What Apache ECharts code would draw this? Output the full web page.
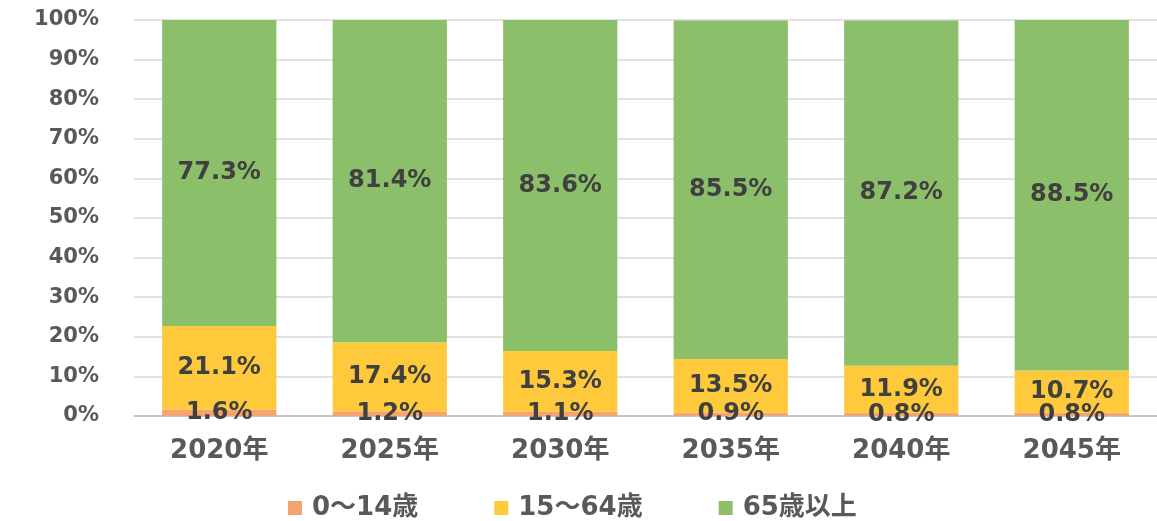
<!DOCTYPE html>
<html><head><meta charset="utf-8">
<script src="https://cdn.jsdelivr.net/npm/echarts@6/dist/echarts.min.js"></script>
<style>html,body{margin:0;padding:0;background:#fff}#c{width:1157px;height:521px}</style>
</head><body><div id="c"></div>
<script>
const categories = ['2020年','2025年','2030年','2035年','2040年','2045年'];
const seriesNames = ['0～14歳','15～64歳','65歳以上'];
const age0_14 = [1.6, 1.2, 1.1, 0.9, 0.8, 0.8];
const age15_64 = [21.1, 17.4, 15.3, 13.5, 11.9, 10.7];
const age65plus = [77.3, 81.4, 83.6, 85.5, 87.2, 88.5];
const yTicks = [0,10,20,30,40,50,60,70,80,90,100];

const colors = ['#F4A46E','#FFC93C','#8CBF6A'];
const FONT = '"DejaVu Sans","Noto Sans CJK JP",sans-serif';
const chart = echarts.init(document.getElementById('c'));
function mk(name, data, color){
  return {
    name, type:'bar', stack:'total', data, barCategoryGap:'33%',
    itemStyle:{color},
    label:{show:true, position:'inside', formatter: p=>p.value.toFixed(1)+'%',
      color:'#404040', fontWeight:'bold', fontSize:24, fontFamily:FONT}
  };
}
chart.setOption({
  animation:false,
  grid:{left:134,right:0,top:20,bottom:105,containLabel:false},
  legend:{top:490,left:283,itemWidth:14,itemHeight:14,itemGap:76,
    icon:'rect',
    textStyle:{fontSize:26,fontWeight:'bold',color:'#595959',fontFamily:FONT,padding:[0,0,0,5]},
    data:seriesNames},
  xAxis:{type:'category',data:categories,
    axisLine:{lineStyle:{color:'#bfbfbf',width:1.5}},axisTick:{show:false},
    axisLabel:{margin:22,fontSize:26,fontWeight:'bold',color:'#595959',fontFamily:FONT}},
  yAxis:{type:'value',min:0,max:100,interval:10,
    axisLine:{show:false},axisTick:{show:false},
    splitLine:{lineStyle:{color:'#d9d9d9',width:1.5}},
    axisLabel:{margin:35,formatter:v=>yTicks.includes(v)?v+'%':'',fontSize:21,fontWeight:'bold',color:'#595959',fontFamily:FONT}},
  series:[mk(seriesNames[0],age0_14,colors[0]),mk(seriesNames[1],age15_64,colors[1]),mk(seriesNames[2],age65plus,colors[2])]
});
</script></body></html>
